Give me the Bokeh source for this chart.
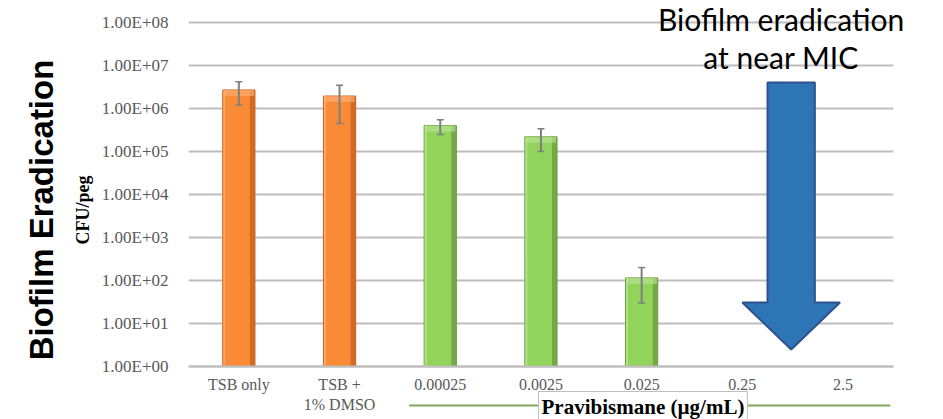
import math
from bokeh.plotting import figure
from bokeh.models import (Range1d, FixedTicker, CustomJSTickFormatter, ColumnDataSource,
                          Whisker, TeeHead, Label, Title)
from bokeh.transform import dodge
from bokeh.embed import file_html
from bokeh.resources import INLINE

# ---------------- data ----------------
categories = ["TSB only", "TSB +\n1% DMSO", "0.00025", "0.0025", "0.025", "0.25", "2.5"]
cfu_values = [2.7e6, 1.95e6, 4.0e5, 2.2e5, 115, 0, 0]
cfu_errors = [1.5e6, 1.5e6, 1.5e5, 1.2e5, 85, 0, 0]
bar_groups = ["control", "control", "drug", "drug", "drug", "drug", "drug"]
tick_values = [1e0, 1e1, 1e2, 1e3, 1e4, 1e5, 1e6, 1e7, 1e8]
tick_labels = ["1.00E+00", "1.00E+01", "1.00E+02", "1.00E+03", "1.00E+04",
               "1.00E+05", "1.00E+06", "1.00E+07", "1.00E+08"]
y_title = "CFU/peg"
x_title = "Pravibismane (µg/mL)"
side_title = "Biofilm Eradication"
note_lines = ["Biofilm eradication", "at near MIC"]

# ---------------- styling ----------------
main_colors = {"control": "#F98A36", "drug": "#92D35C"}
dark_colors = {"control": "#C9641F", "drug": "#6E9F42"}
light_colors = {"control": "#FDB27A", "drug": "#BDE69A"}
SERIF = "Liberation Serif"
GRID = "#BEBEBE"
PX_DEC = 43.0      # pixels per decade on the y axis
PX_CAT = 100.7     # pixels per category on the x axis

n_cat = len(categories)
positions = [i + 0.5 for i in range(n_cat)]


def ylog(px_from_base):
    """y data value lying px_from_base pixels above the 1e0 baseline"""
    return 10 ** (px_from_base / PX_DEC)


rows = [(x, v, e, g) for x, v, e, g in zip(positions, cfu_values, cfu_errors, bar_groups) if v > 0]
src = ColumnDataSource(dict(
    x=[r[0] for r in rows],
    top=[r[1] for r in rows],
    bottom=[tick_values[0] for r in rows],
    bevel=[r[1] / 10 ** (6 / PX_DEC) for r in rows],
    upper=[r[1] + r[2] for r in rows],
    lower=[r[1] - r[2] for r in rows],
    main=[main_colors[r[3]] for r in rows],
    dark=[dark_colors[r[3]] for r in rows],
    light=[light_colors[r[3]] for r in rows],
))

W, H = 943, 419
LEFT = 188
BASE = 366          # pixel row of the 1e0 baseline
x_end = (W - LEFT) / PX_CAT
y_top = ylog(BASE)
y_bot = ylog(-(H - BASE))

p = figure(width=W, height=H, x_range=Range1d(0, x_end), y_range=Range1d(y_bot, y_top),
           y_axis_type="log", output_backend="svg", toolbar_location=None,
           min_border_left=LEFT, min_border_right=0, min_border_top=0, min_border_bottom=0)
p.outline_line_color = None
p.background_fill_color = "white"
p.border_fill_color = "white"
p.xgrid.grid_line_color = None
p.ygrid.grid_line_color = None

# horizontal grid lines across the category area
p.segment(x0=[0] * len(tick_values), x1=[n_cat] * len(tick_values),
          y0=tick_values, y1=tick_values, line_color=GRID, line_width=2)

# bars
p.vbar(x="x", top="top", bottom="bottom", width=0.32, source=src,
       fill_color="main", line_color="dark", line_width=1)
p.vbar(x=dodge("x", 0.135), top="top", bottom="bottom", width=0.05,
       source=src, fill_color="dark", line_color=None, fill_alpha=0.8)
p.vbar(x=dodge("x", -0.145), top="top", bottom="bottom", width=0.02,
       source=src, fill_color="light", line_color=None, fill_alpha=0.7)
p.vbar(x="x", top="top", bottom="bevel", width=0.30, source=src,
       fill_color="light", line_color=None, fill_alpha=0.6)

# error bars
p.add_layout(Whisker(base="x", upper="upper", lower="lower", source=src, level="overlay",
                     line_color="#7F7F7F", line_width=2,
                     upper_head=TeeHead(size=7, line_color="#7F7F7F", line_width=1.5),
                     lower_head=TeeHead(size=7, line_color="#7F7F7F", line_width=1.5)))

# y axis
p.yaxis.ticker = FixedTicker(ticks=tick_values, minor_ticks=[])
p.yaxis.formatter = CustomJSTickFormatter(args=dict(labels=tick_labels),
                                          code="return labels[Math.round(Math.log10(tick))];")
p.yaxis.axis_line_color = None
p.yaxis.major_tick_line_color = None
p.yaxis.minor_tick_line_color = None
p.yaxis.major_label_standoff = 14
p.yaxis.major_label_text_font = SERIF
p.yaxis.major_label_text_font_size = "17px"
p.yaxis.major_label_text_color = "#595959"
p.yaxis.axis_label = y_title
p.yaxis.axis_label_text_font = SERIF
p.yaxis.axis_label_text_font_style = "bold"
p.yaxis.axis_label_text_font_size = "18px"
p.yaxis.axis_label_text_color = "black"
p.yaxis.axis_label_standoff = 6

# x axis, drawn on the 1e0 baseline
p.xaxis.fixed_location = tick_values[0]
p.xaxis.bounds = (0, n_cat)
p.xaxis.ticker = FixedTicker(ticks=positions, minor_ticks=[])
p.xaxis.formatter = CustomJSTickFormatter(args=dict(labels=categories),
                                          code="return labels[Math.round(tick - 0.5)];")
p.xaxis.axis_line_color = GRID
p.xaxis.axis_line_width = 2
p.xaxis.major_tick_line_color = None
p.xaxis.minor_tick_line_color = None
p.xaxis.major_label_standoff = 3
p.xaxis.major_label_text_font = SERIF
p.xaxis.major_label_text_font_size = "16px"
p.xaxis.major_label_text_color = "#595959"

# side title
p.add_layout(Title(text=side_title, align="center", standoff=19, text_font="Liberation Sans",
                   text_font_style="bold", text_font_size="33px", text_color="black"), "left")

# big blue arrow (annotation) between the 0.25 and 2.5 categories
cx = positions[-1] - 0.515
ay_top, ay_neck, ay_tip = ylog(284), ylog(64), ylog(17)
arrow_x = [cx - 0.235, cx + 0.235, cx + 0.235, cx + 0.485, cx, cx - 0.485, cx - 0.235]
arrow_y = [ay_top, ay_top, ay_neck, ay_neck, ay_tip, ay_neck, ay_neck]
p.patch(arrow_x, arrow_y, fill_color="#2E75B6", line_color="#2F528F", line_width=2)

# note text (two centred lines)
for line, mid in zip(note_lines, [BASE - 18, BASE - 56]):
    p.add_layout(Label(x=cx - 0.1, y=ylog(mid), text=line,
                       text_align="center", text_baseline="middle",
                       text_font="Lato", text_font_size="30px", text_color="black"))

# x title with green rule
p.segment(x0=[2.19], x1=[6.97], y0=[ylog(-39)], y1=[ylog(-39)],
          line_color="#7FAA5A", line_width=2)
p.add_layout(Label(x=4.513, y=ylog(-40), text=x_title,
                   text_align="center", text_baseline="middle",
                   text_font=SERIF, text_font_style="bold", text_font_size="21px",
                   text_color="black", background_fill_color="white",
                   border_line_color="#BFBFBF", border_line_width=1, padding=3))

open("out.html", "w").write(file_html(p, INLINE))
